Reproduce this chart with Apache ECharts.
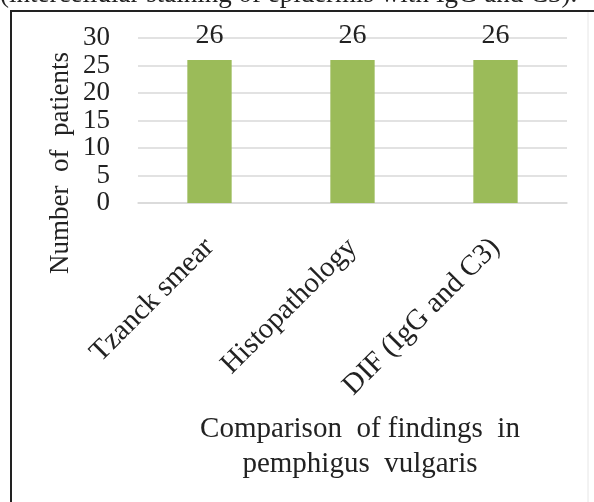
<!DOCTYPE html>
<html>
<head>
<meta charset="utf-8">
<script src="https://cdn.jsdelivr.net/npm/echarts@6/dist/echarts.min.js"></script>
<style>
  html, body { margin: 0; padding: 0; background: #fff; }
  #main { width: 594px; height: 502px; }
</style>
</head>
<body>
<div id="main"></div>
<script>
// findings in pemphigus vulgaris
var categories = ['Tzanck smear', 'Histopathology', 'DIF (IgG and C3)'];
var patients = [26, 26, 26];
var yTicks = [0, 5, 10, 15, 20, 25, 30];

var serif = '"Liberation Serif", "Times New Roman", serif';

var chart = echarts.init(document.getElementById('main'));
var option = {
  backgroundColor: '#fff',
  animation: false,
  grid: {
    left: 138,
    right: 27,
    top: 38,
    bottom: 299
  },
  title: {
    text: 'Comparison  of findings  in\npemphigus  vulgaris',
    left: 355,
    top: 407,
    textAlign: 'center',
    textStyle: {
      fontFamily: serif,
      fontWeight: 'normal',
      fontSize: 29,
      lineHeight: 35,
      color: '#222'
    }
  },
  xAxis: {
    type: 'category',
    data: categories,
    axisLine: { lineStyle: { color: '#d9d9d9', width: 1.5 } },
    axisTick: { show: false },
    axisLabel: {
      rotate: 45,
      interval: 0,
      margin: 40,
      fontFamily: serif,
      fontSize: 29,
      color: '#222'
    }
  },
  yAxis: {
    type: 'value',
    min: yTicks[0],
    max: yTicks[yTicks.length - 1],
    interval: 5,
    axisLine: { show: false },
    axisTick: { show: false },
    splitLine: { lineStyle: { color: '#d9d9d9', width: 1.5 } },
    axisLabel: {
      margin: 28,
      fontFamily: serif,
      fontSize: 27,
      color: '#222'
    }
  },
  series: [{
    type: 'bar',
    data: patients,
    barWidth: '31%',
    itemStyle: { color: '#9bbb59' },
    label: {
      show: true,
      position: 'top',
      distance: 10,
      fontFamily: serif,
      fontSize: 28,
      color: '#222'
    }
  }],
  graphic: [
    {
      type: 'text',
      left: 0,
      top: -19,
      style: {
        text: '(intercellular staining of epidermis with IgG and C3).',
        font: '27px ' + serif,
        fill: '#222'
      }
    },
    {
      type: 'text',
      x: 61,
      y: 163,
      rotation: Math.PI / 2,
      style: {
        text: 'Number  of  patients',
        font: '27px ' + serif,
        fill: '#222',
        align: 'center',
        verticalAlign: 'middle'
      }
    },
    {
      type: 'line',
      shape: { x1: 11, y1: 10, x2: 11, y2: 502 },
      style: { stroke: '#222', lineWidth: 2 }
    },
    {
      type: 'line',
      shape: { x1: 10, y1: 11, x2: 594, y2: 11 },
      style: { stroke: '#222', lineWidth: 2 }
    },
    {
      type: 'line',
      shape: { x1: 588, y1: 12, x2: 588, y2: 502 },
      style: { stroke: '#e6e6e6', lineWidth: 1 }
    }
  ]
};
chart.setOption(option);
</script>
</body>
</html>
